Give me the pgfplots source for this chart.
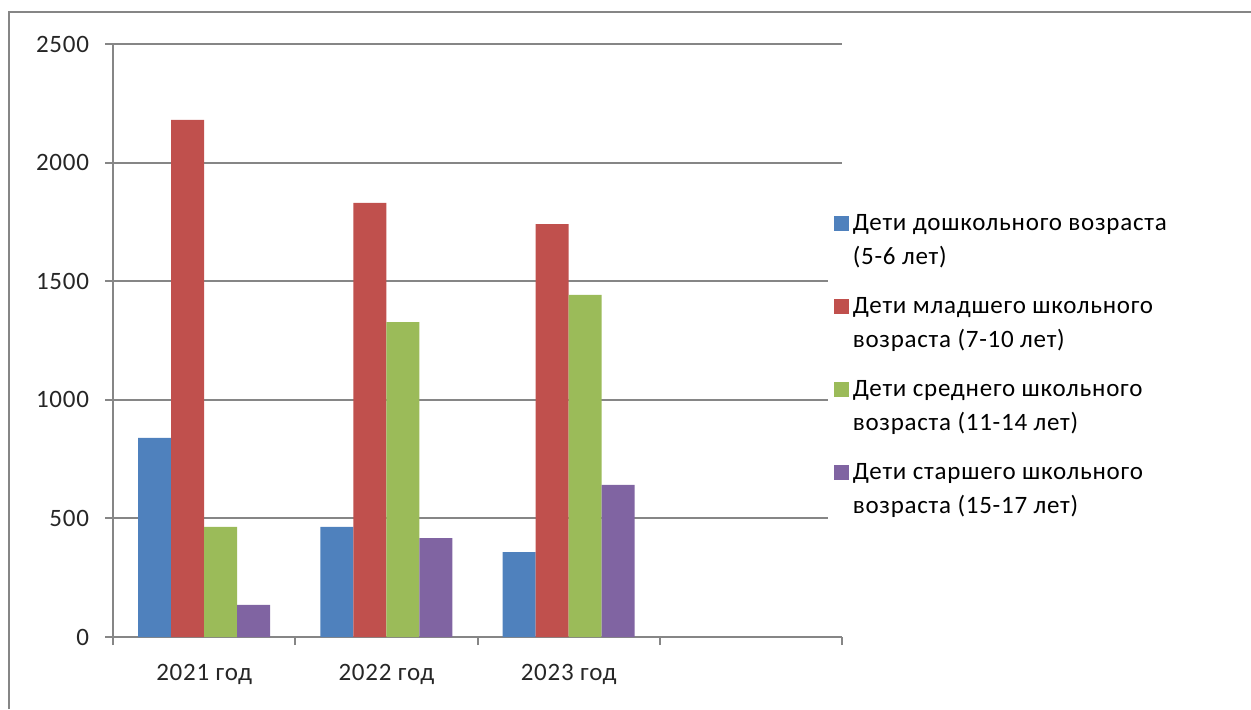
\documentclass[border=0pt]{standalone}
\usepackage{pgfplots}
\pgfplotsset{compat=1.18}
\usepackage{fontspec}
\setmainfont{Carlito}[LetterSpace=3]

\definecolor{sblue}{RGB}{79,129,189}
\definecolor{sred}{RGB}{192,80,77}
\definecolor{sgreen}{RGB}{155,187,89}
\definecolor{spurple}{RGB}{128,100,162}
\definecolor{axgray}{RGB}{134,134,134}

\begin{document}
\begin{tikzpicture}[x=0.5pt,y=0.5pt]
\useasboundingbox (0,0) rectangle (1251,709);
% outer chart frame (only left and top visible)
\draw[axgray, line width=1pt] (9,0) -- (9,697) -- (1251,697);

\def\bw{0.181}
\begin{axis}[
  at={(56.5pt,36pt)}, anchor=origin,
  scale only axis,
  width=364.5pt, height=296.5pt,
  xmin=0, xmax=4, ymin=0, ymax=2500,
  axis lines*=left,
  axis line style={axgray, line width=1pt},
  ymajorgrids,
  grid style={axgray, line width=1pt},
  tick style={axgray, line width=1pt},
  tick align=outside,
  major tick length=4pt,
  ytick={0,500,1000,1500,2000,2500},
  xtick={0,1,2,3,4},
  xticklabels={},
  extra x ticks={0.5,1.5,2.5},
  extra x tick labels={2021 год,2022 год,2023 год},
  extra x tick style={major tick length=0pt, grid=none},
  ticklabel style={font=\fontsize{12.5}{15}\selectfont, color=black!85},
  yticklabel style={xshift=-4.5pt},
  xticklabel style={yshift=-10pt},
  /pgf/number format/assume math mode=true,
  /pgf/number format/1000 sep={},
  ybar, bar width=\bw,
  legend style={at={(0.980,0.727)}, anchor=north west, draw=none,
    font=\fontsize{12.5}{17}\selectfont, row sep=11pt,
    cells={anchor=west, align=left}},
  legend image code/.code={\fill[#1] (0pt,4.75pt) rectangle (7.5pt,12.25pt);},
]
\addplot[fill=sblue, draw=none, bar shift=-1.5*\bw] coordinates {(0.5,839) (1.5,464) (2.5,358)};
\addplot[fill=sred, draw=none, bar shift=-0.5*\bw] coordinates {(0.5,2180) (1.5,1830) (2.5,1741)};
\addplot[fill=sgreen, draw=none, bar shift=0.5*\bw] coordinates {(0.5,464) (1.5,1328) (2.5,1442)};
\addplot[fill=spurple, draw=none, bar shift=1.5*\bw] coordinates {(0.5,135) (1.5,417) (2.5,641)};
\legend{Дети дошкольного возраста\\(5-6 лет),
  Дети младшего школьного\\возраста (7-10 лет),
  Дети среднего школьного\\возраста (11-14 лет),
  Дети старшего школьного\\возраста (15-17 лет)}
\end{axis}
\end{tikzpicture}
\end{document}
